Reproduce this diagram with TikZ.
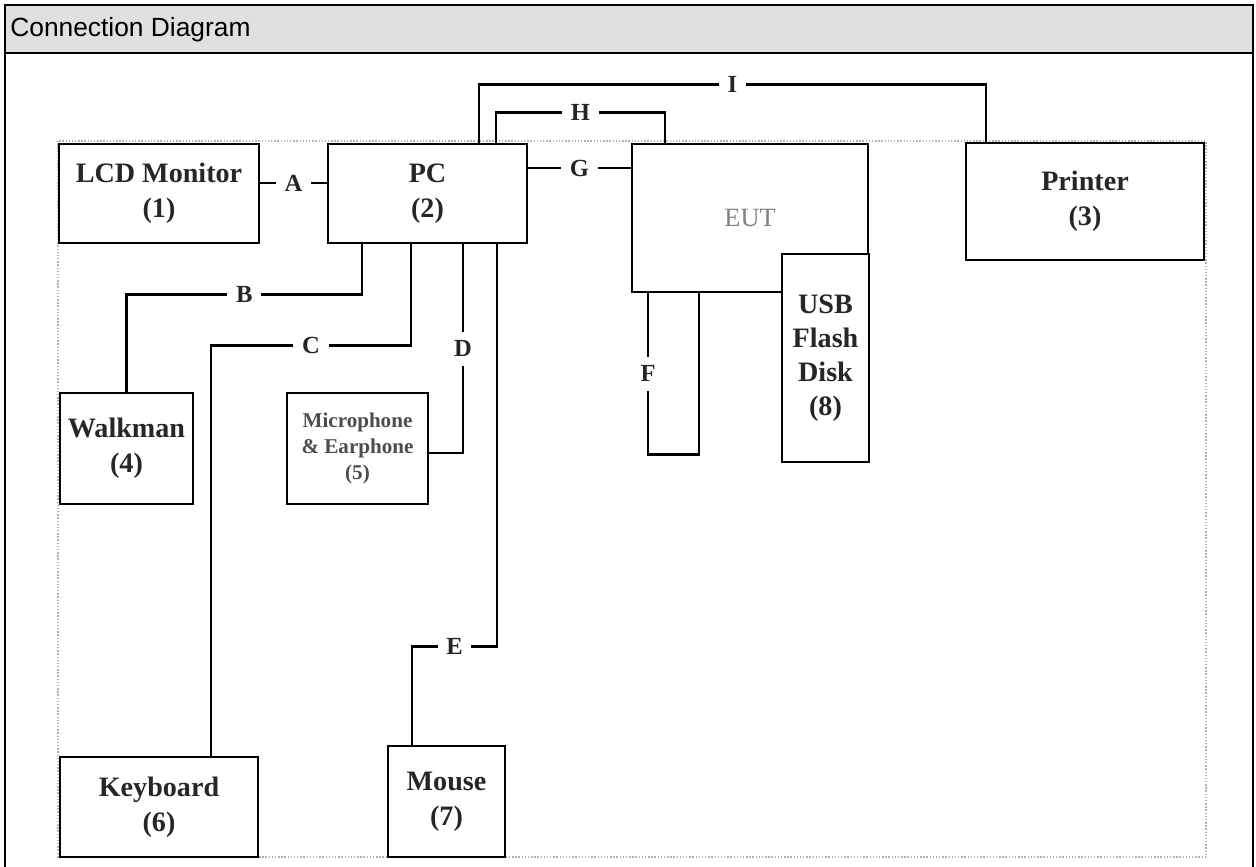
\documentclass[tikz,border=0pt]{standalone}
\usepackage{fontspec}
\setmainfont{Liberation Serif}
\newfontfamily\headfont{Liberation Sans}
\definecolor{headgray}{RGB}{224,224,224}

\begin{document}
\begin{tikzpicture}[x=0.02cm, y=-0.02cm, align=center,
	main/.style = {draw, rectangle, line width=1.6pt, inner sep=0pt, text=black!85, font=\bfseries\fontsize{16}{20}\selectfont},
	wire/.style = {line width=1.6pt},
	lbl/.style = {fill=white, inner sep=5pt, text=black!85, font=\bfseries\fontsize{14}{14}\selectfont}]
	\useasboundingbox (0,0) rectangle (1256,866);
	\fill[headgray] (5,5) rectangle (1253,53);
	\draw[line width=1.6pt] (5,870) -- (5,5) -- (1253,5) -- (1253,870);
	\draw[line width=1.6pt] (5,53) -- (1253,53);
	\node[anchor=base west, inner sep=0pt, font=\headfont\fontsize{15}{15}\selectfont] (title) at (10,36) {Connection Diagram};
	\draw[gray!60, densely dotted, line width=0.8pt] (58,141) rectangle (1206,857);
	\node[main, minimum width=4cm, minimum height=1.98cm] (1) at (159,193.5) {LCD Monitor\\(1)};
	\node[main, minimum width=3.98cm, minimum height=1.98cm] (2) at (427.5,193.5) {PC\\(2)};
	\node[main, minimum width=4.72cm, minimum height=2.96cm, text=black!50, font=\fontsize{15}{18}\selectfont] (eut) at (750,218) {EUT};
	\node[main, fill=white, minimum width=1.74cm, minimum height=4.16cm, font=\bfseries\fontsize{16}{19.3}\selectfont] (8) at (825.5,358) {USB\\Flash\\Disk\\(8)};
	\node[main, minimum width=4.76cm, minimum height=2.34cm] (3) at (1085,201.5) {Printer\\(3)};
	\node[main, minimum width=2.66cm, minimum height=2.22cm] (4) at (126.5,448.5) {Walkman\\(4)};
	\node[main, minimum width=2.82cm, minimum height=2.22cm, text=black!70, font=\bfseries\fontsize{12}{14.8}\selectfont] (5) at (357.5,448.5) {Microphone\\\& Earphone\\(5)};
	\node[main, minimum width=3.96cm, minimum height=2cm] (6) at (159,807) {Keyboard\\(6)};
	\node[main, minimum width=2.34cm, minimum height=2.22cm] (7) at (446.5,801.5) {Mouse\\(7)};
	\draw[wire] ([yshift=0.21cm]1.east) -- node[lbl]{A} ([yshift=0.21cm]2.west);
	\draw[wire] ([yshift=0.51cm]2.east) -- node[lbl]{G} ([yshift=0.51cm]2.east -| eut.west);
	\draw[wire] ([xshift=1.37cm]2.north) -- ++(0,-30) -| node[lbl, pos=0.25]{H} ([xshift=-1.7cm]eut.north);
	\draw[wire] ([xshift=1.03cm]2.north) -- ++(0,-58) -| node[lbl, pos=0.25]{I} ([xshift=-1.98cm]3.north);
	\draw[wire] ([xshift=-1.31cm]2.south) -- ++(0,50) -| node[lbl, pos=0.25]{B} (4.north);
	\draw[wire] ([xshift=-0.33cm]2.south) -- ++(0,101) -| node[lbl, pos=0.25]{C} ([xshift=1.04cm]6.north);
	\draw[wire] ([xshift=0.71cm]2.south) |- node[lbl, pos=0.25]{D} ([yshift=-0.09cm]5.east);
	\draw[wire] ([xshift=1.39cm]2.south) -- ++(0,402) -| node[lbl, pos=0.25]{E} ([xshift=-0.69cm]7.north);
	\draw[wire] ([xshift=-2.04cm]eut.south) -- node[lbl]{F} ++(0,161) -| ([xshift=-1.02cm]eut.south);
\end{tikzpicture}
\end{document}
